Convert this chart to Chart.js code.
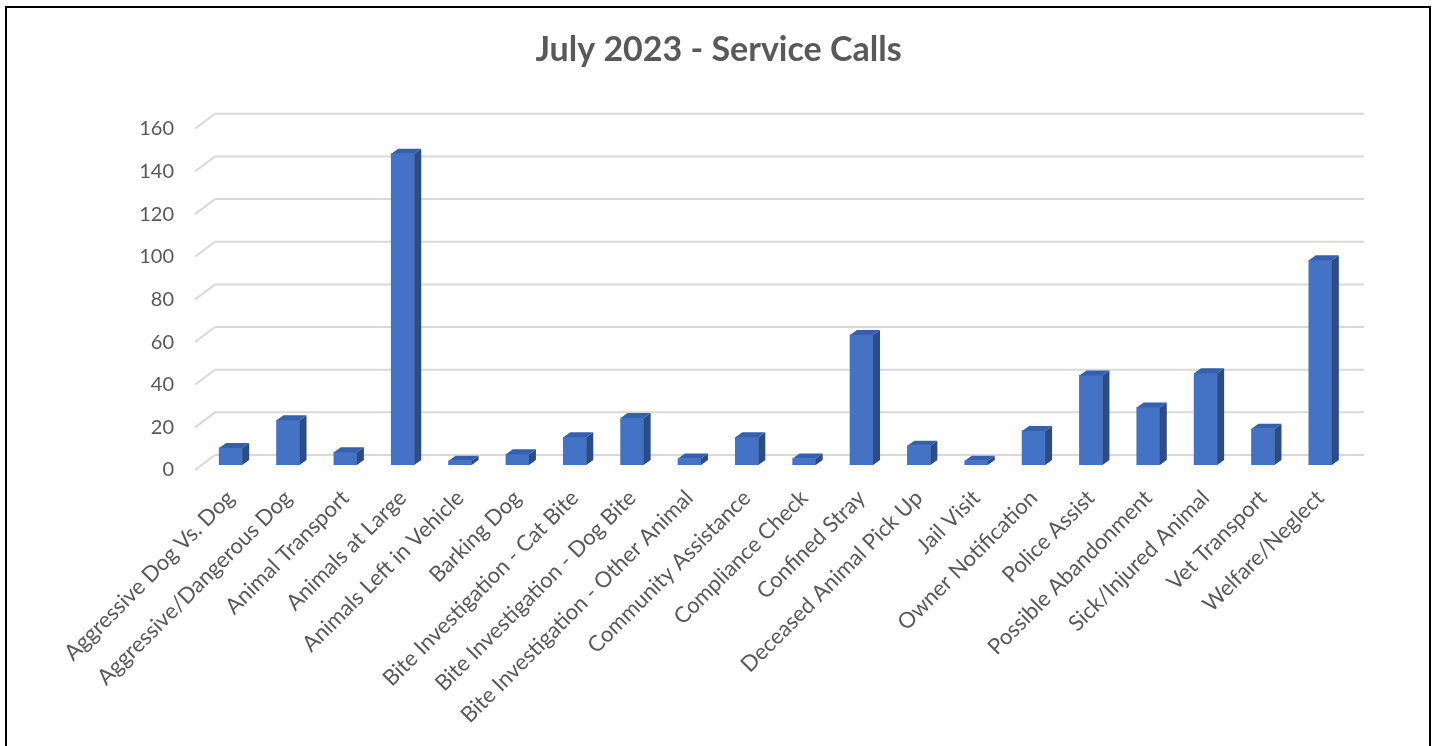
<!DOCTYPE html>
<html>
<head>
<meta charset="utf-8">
<script src="https://cdn.jsdelivr.net/npm/chart.js@4.4.0/dist/chart.umd.min.js"></script>
<style>
  html, body { margin: 0; padding: 0; background: #fff; overflow: hidden; }
  #frame { position: absolute; left: 5px; top: 6px; width: 1422px; height: 800px; border: 2px solid #000; }
  #wrap { position: absolute; left: 0; top: 0; width: 1437px; height: 746px; }
</style>
</head>
<body>
<div id="frame"></div>
<div id="wrap"><canvas id="myChart" width="1437" height="746"></canvas></div>
<script>
// service call categories, July 2023
const categories = [
  "Aggressive Dog Vs. Dog",
  "Aggressive/Dangerous Dog",
  "Animal Transport",
  "Animals at Large",
  "Animals Left in Vehicle",
  "Barking Dog",
  "Bite Investigation - Cat Bite",
  "Bite Investigation - Dog Bite",
  "Bite Investigation - Other Animal",
  "Community Assistance",
  "Compliance Check",
  "Confined Stray",
  "Deceased Animal Pick Up",
  "Jail Visit",
  "Owner Notification",
  "Police Assist",
  "Possible Abandonment",
  "Sick/Injured Animal",
  "Vet Transport",
  "Welfare/Neglect",
];
const calls = [8, 21, 6, 146, 2, 5, 13, 22, 3, 13, 3, 61, 9, 2, 16, 42, 27, 43, 17, 96];
const yTicks = [0, 20, 40, 60, 80, 100, 120, 140, 160];

const textColor = "#595959";
const gridColor = "#d9d9d9";
const depthX = 7; // bar depth offset
const depthY = 5;

// back wall + side wall gridlines (excel 3d look)
const walls = {
  id: "walls",
  beforeDatasetsDraw(chart) {
    const { ctx, chartArea, scales } = chart;
    ctx.save();
    ctx.strokeStyle = gridColor;
    ctx.lineWidth = 2;
    yTicks.forEach((v) => {
      const yb = scales.y.getPixelForValue(v) - 10;
      ctx.beginPath();
      ctx.moveTo(chartArea.left - 7, yb + 15);
      ctx.lineTo(chartArea.left + 13, yb);
      ctx.lineTo(chartArea.right + 15, yb);
      ctx.stroke();
    });
    ctx.restore();
  },
};

// side and top faces of each column
const bars3d = {
  id: "bars3d",
  afterDatasetsDraw(chart) {
    const { ctx } = chart;
    const meta = chart.getDatasetMeta(0);
    ctx.save();
    meta.data.forEach((bar) => {
      const left = bar.x - bar.width / 2;
      const right = bar.x + bar.width / 2;
      const top = bar.y;
      const base = bar.base;
      // side
      ctx.fillStyle = "#2b4c85";
      ctx.beginPath();
      ctx.moveTo(right, top);
      ctx.lineTo(right + depthX, top - depthY);
      ctx.lineTo(right + depthX, base - depthY);
      ctx.lineTo(right, base);
      ctx.closePath();
      ctx.fill();
      // top
      ctx.fillStyle = "#3460ad";
      ctx.beginPath();
      ctx.moveTo(left, top);
      ctx.lineTo(left + depthX, top - depthY);
      ctx.lineTo(right + depthX, top - depthY);
      ctx.lineTo(right, top);
      ctx.closePath();
      ctx.fill();
    });
    ctx.restore();
  },
};

const chartdata = {
  labels: categories,
  datasets: [
    {
      label: "Service Calls",
      backgroundColor: "#4472c4",
      data: calls,
      barThickness: 23,
    },
  ],
};

const config = {
  type: "bar",
  data: chartdata,
  options: {
    responsive: false,
    animation: false,
    layout: { padding: 0 },
    plugins: {
      legend: { display: false },
      tooltip: { enabled: false },
      title: {
        display: true,
        text: "July 2023 - Service Calls",
        color: textColor,
        font: { family: "Lato", size: 34, weight: "bold" },
        padding: { top: 30, bottom: 53 },
      },
    },
    scales: {
      x: {
        grid: { display: false, drawTicks: false },
        border: { display: false },
        ticks: {
          color: textColor,
          font: { family: "Lato", size: 22 },
          minRotation: 45,
          maxRotation: 45,
          autoSkip: false,
          padding: 20,
        },
        afterFit(scale) {
          scale.height = 746 - 465;
        },
      },
      y: {
        min: 0,
        max: 160,
        grid: { display: false, drawTicks: false },
        border: { display: false },
        ticks: {
          stepSize: 20,
          color: textColor,
          font: { family: "Lato", size: 20 },
          padding: 28,
          labelOffset: 5,
        },
        afterFit(scale) {
          scale.width = 202;
        },
      },
      // empty right gutter so the plot ends where the original does
      yRight: {
        position: "right",
        min: 0,
        max: 160,
        grid: { display: false, drawTicks: false },
        border: { display: false },
        ticks: { display: false },
        afterFit(scale) {
          scale.width = 88;
        },
      },
    },
  },
  plugins: [walls, bars3d],
};

const ctx = document.querySelector("#myChart");
const myChart = new Chart(ctx, config);
</script>
</body>
</html>
